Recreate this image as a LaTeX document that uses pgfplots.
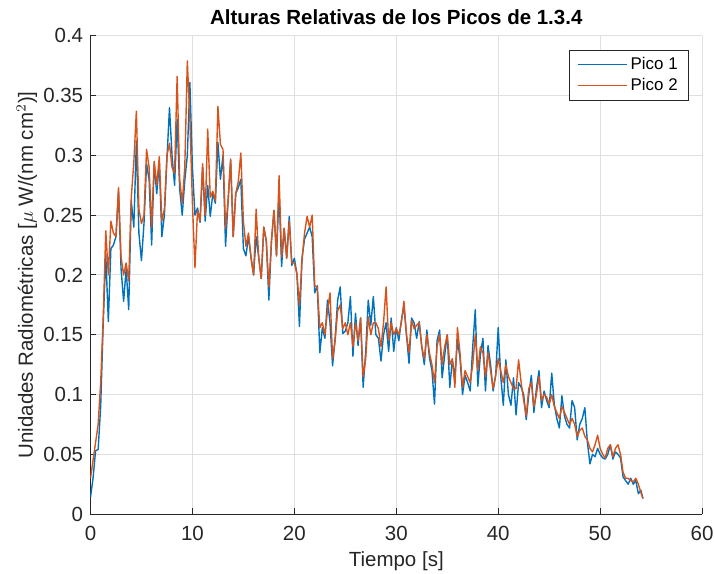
\documentclass[border=0pt]{standalone}
\usepackage{pgfplots}
\usepackage{pgfplotstable}
\pgfplotsset{compat=1.18}
\usepackage{fontspec}
\setmainfont{Liberation Sans}

\definecolor{picoA}{RGB}{0,114,189}
\definecolor{picoB}{RGB}{217,83,25}
\definecolor{axisgray}{RGB}{38,38,38}
\definecolor{gridgray}{RGB}{223,223,223}

% tiempo [s], pico 1, pico 2
\pgfplotstableread{
t     p1     p2
0.00  0.014  0.030
0.25  0.030  0.045
0.50  0.053  0.060
0.75  0.054  0.075
1.00  0.090  0.110
1.25  0.160  0.165
1.50  0.217  0.237
1.75  0.161  0.200
2.00  0.222  0.245
2.25  0.225  0.235
2.50  0.232  0.232
2.75  0.270  0.273
3.00  0.205  0.215
3.25  0.178  0.200
3.50  0.205  0.210
3.75  0.171  0.195
4.00  0.262  0.265
4.25  0.240  0.294
4.50  0.312  0.337
4.75  0.235  0.255
5.00  0.212  0.243
5.25  0.243  0.250
5.50  0.293  0.305
5.75  0.280  0.290
6.00  0.225  0.240
6.25  0.293  0.295
6.50  0.268  0.275
6.75  0.294  0.299
7.00  0.232  0.245
7.25  0.250  0.255
7.50  0.297  0.300
7.75  0.340  0.310
8.00  0.300  0.290
8.25  0.275  0.285
8.50  0.330  0.366
8.75  0.272  0.280
9.00  0.250  0.260
9.25  0.279  0.290
9.50  0.300  0.379
9.75  0.361  0.330
10.00 0.290  0.260
10.25 0.250  0.206
10.50 0.256  0.254
10.75 0.244  0.245
11.00 0.290  0.293
11.25 0.245  0.250
11.50 0.275  0.322
11.75 0.249  0.265
12.00 0.268  0.270
12.25 0.260  0.262
12.50 0.311  0.341
12.75 0.280  0.309
13.00 0.300  0.305
13.25 0.224  0.239
13.50 0.262  0.262
13.75 0.296  0.297
14.00 0.232  0.232
14.25 0.268  0.268
14.50 0.273  0.278
14.75 0.280  0.302
15.00 0.222  0.245
15.25 0.216  0.224
15.50 0.232  0.235
15.75 0.215  0.214
16.00 0.200  0.200
16.25 0.232  0.255
16.50 0.215  0.215
16.75 0.197  0.197
17.00 0.240  0.240
17.25 0.228  0.229
17.50 0.179  0.190
17.75 0.228  0.228
18.00 0.254  0.254
18.25 0.216  0.216
18.50 0.270  0.283
18.75 0.207  0.215
19.00 0.239  0.239
19.25 0.214  0.214
19.50 0.249  0.245
19.75 0.208  0.210
20.00 0.214  0.210
20.25 0.201  0.201
20.50 0.157  0.175
20.75 0.214  0.212
21.00 0.230  0.235
21.25 0.235  0.249
21.50 0.240  0.240
21.75 0.232  0.250
22.00 0.185  0.191
22.25 0.191  0.190
22.50 0.135  0.156
22.75 0.156  0.160
23.00 0.147  0.150
23.25 0.179  0.170
23.50 0.160  0.185
23.75 0.124  0.130
24.00 0.147  0.145
24.25 0.179  0.170
24.50 0.190  0.175
24.75 0.151  0.155
25.00 0.153  0.160
25.25 0.160  0.150
25.50 0.182  0.160
25.75 0.132  0.140
26.00 0.168  0.160
26.25 0.141  0.145
26.50 0.164  0.164
26.75 0.106  0.115
27.00 0.136  0.130
27.25 0.179  0.165
27.50 0.158  0.150
27.75 0.182  0.160
28.00 0.150  0.160
28.25 0.147  0.155
28.50 0.128  0.140
28.75 0.150  0.160
29.00 0.160  0.190
29.25 0.136  0.145
29.50 0.164  0.160
29.75 0.136  0.150
30.00 0.156  0.155
30.25 0.145  0.150
30.50 0.162  0.160
30.75 0.174  0.178
31.00 0.150  0.150
31.25 0.126  0.135
31.50 0.164  0.162
31.75 0.160  0.155
32.00 0.147  0.158
32.25 0.161  0.160
32.50 0.140  0.140
32.75 0.125  0.130
33.00 0.154  0.150
33.25 0.131  0.135
33.50 0.120  0.125
33.75 0.092  0.110
34.00 0.145  0.140
34.25 0.154  0.150
34.50 0.114  0.125
34.75 0.133  0.140
35.00 0.150  0.150
35.25 0.106  0.125
35.50 0.129  0.130
35.75 0.115  0.106
36.00 0.145  0.156
36.25 0.131  0.135
36.50 0.100  0.106
36.75 0.116  0.120
37.00 0.110  0.115
37.25 0.103  0.110
37.50 0.140  0.125
37.75 0.171  0.150
38.00 0.107  0.120
38.25 0.133  0.140
38.50 0.147  0.135
38.75 0.103  0.115
39.00 0.141  0.135
39.25 0.125  0.120
39.50 0.103  0.105
39.75 0.116  0.116
40.00 0.156  0.130
40.25 0.115  0.120
40.50 0.091  0.110
40.75 0.129  0.125
41.00 0.100  0.115
41.25 0.091  0.110
41.50 0.114  0.105
41.75 0.083  0.105
42.00 0.110  0.129
42.25 0.106  0.110
42.50 0.100  0.095
42.75 0.079  0.082
43.00 0.100  0.105
43.25 0.116  0.110
43.50 0.085  0.090
43.75 0.105  0.100
44.00 0.120  0.115
44.25 0.089  0.095
44.50 0.103  0.100
44.75 0.095  0.098
45.00 0.089  0.092
45.25 0.118  0.100
45.50 0.092  0.090
45.75 0.080  0.085
46.00 0.072  0.080
46.25 0.099  0.090
46.50 0.082  0.085
46.75 0.075  0.080
47.00 0.072  0.075
47.25 0.095  0.080
47.50 0.089  0.075
47.75 0.062  0.065
48.00 0.075  0.070
48.25 0.080  0.072
48.50 0.089  0.065
48.75 0.060  0.062
49.00 0.042  0.055
49.25 0.050  0.052
49.50 0.048  0.058
49.75 0.055  0.066
50.00 0.050  0.055
50.25 0.047  0.050
50.50 0.046  0.047
50.75 0.050  0.055
51.00 0.058  0.058
51.25 0.046  0.048
51.50 0.052  0.055
51.75 0.050  0.058
52.00 0.047  0.050
52.25 0.031  0.035
52.50 0.028  0.030
52.75 0.025  0.030
53.00 0.030  0.028
53.25 0.025  0.027
53.50 0.028  0.030
53.75 0.017  0.025
54.00 0.020  0.018
54.20 0.013  0.013
}\picos

\begin{document}
\begin{tikzpicture}
\useasboundingbox (-45.5pt,-30pt) rectangle (313.5pt,258.5pt);
\begin{axis}[
  at={(0,0)}, anchor=origin,
  scale only axis,
  width=307.5pt, height=240.5pt,
  xmin=0, xmax=60, ymin=0, ymax=0.4,
  enlargelimits=false,
  axis x line*=bottom, axis y line*=left,
  x axis line style={-}, y axis line style={-},
  axis line style={draw=axisgray, line width=0.5pt},
  xtick={0,10,...,60},
  ytick={0,0.05,...,0.4},
  scaled y ticks=false,
  /pgf/number format/assume math mode=true,
  yticklabel style={/pgf/number format/fixed, /pgf/number format/precision=2},
  tick align=inside,
  major tick length=3pt,
  tick style={draw=axisgray, line width=0.5pt},
  grid=major,
  major grid style={draw=gridgray, line width=0.5pt},
  ticklabel style={font=\fontsize{10.3}{12}\selectfont, text=axisgray},
  xticklabel style={anchor=base, inner sep=0pt, yshift=-13.5pt},
  yticklabel style={anchor=east, inner sep=0pt, xshift=-3.5pt},
  every axis title shift=0pt,
  title={\textbf{Alturas Relativas de los Picos de 1.3.4}},
  title style={at={(axis description cs:0.5,1)}, anchor=base, yshift=5.5pt,
    font=\fontsize{10.3}{12}\selectfont},
  xlabel={Tiempo [s]},
  xlabel style={at={(axis description cs:0.5,0)}, anchor=base, yshift=-26.5pt,
    font=\fontsize{10.3}{12}\selectfont, text=axisgray},
  ylabel={Unidades Radiométricas [$\mu$ W/(nm cm$^2$)]},
  ylabel style={at={(axis description cs:-0.0943,0.5)}, anchor=base, rotate=0,
    font=\fontsize{10.3}{12}\selectfont, text=axisgray},
  legend style={at={(axis description cs:1,1)}, anchor=north east,
    xshift=-6.5pt, yshift=-7pt,
    draw=axisgray, line width=0.5pt, fill=white,
    font=\fontsize{8.5}{10}\selectfont,
    inner xsep=4pt, inner ysep=2pt, row sep=0pt,
    nodes={inner sep=1.5pt}},
  legend cell align=left,
  legend image code/.code={\draw[#1, line width=0.5pt] (0pt,0pt) -- (25pt,0pt);},
  every axis plot/.append style={line width=0.7pt, line join=round},
]
\addplot[picoA] table[x=t, y=p1] {\picos};
\addlegendentry{Pico 1}
\addplot[picoB] table[x=t, y=p2] {\picos};
\addlegendentry{Pico 2}
\end{axis}
\end{tikzpicture}
\end{document}
